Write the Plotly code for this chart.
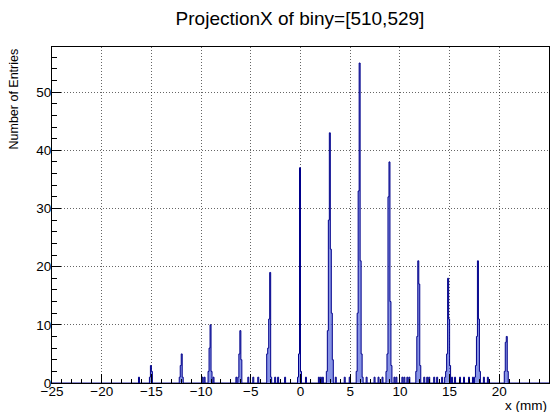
import numpy as np
import plotly.graph_objects as go

# ---- data (bin centers in mm, bin width 0.1 mm) ----
title_text = "ProjectionX of biny=[510,529]"
x_title = "x (mm)"
y_title = "Number of Entries"

peak_bins = [
    -15.15, -15.05, -14.95,
    -12.15, -12.05, -11.95, -11.85,
    -9.25, -9.15, -9.05, -8.95,
    -6.25, -6.15, -6.05, -5.95,
    -3.35, -3.25, -3.15, -3.05, -2.95,
    -0.25, -0.15, -0.05, 0.05,
    2.65, 2.75, 2.85, 2.95, 3.05, 3.15, 3.25,
    5.65, 5.75, 5.85, 5.95, 6.05, 6.15, 6.25,
    8.65, 8.75, 8.85, 8.95, 9.05, 9.15,
    11.65, 11.75, 11.85, 11.95, 12.05,
    14.55, 14.65, 14.75, 14.85, 14.95, 15.05,
    17.55, 17.65, 17.75, 17.85, 17.95, 18.05,
    20.55, 20.65, 20.75, 20.85,
]
peak_counts = [
    1, 3, 2,
    1, 3, 5, 1,
    2, 6, 10, 2,
    1, 5, 9, 4,
    5, 6, 11, 19, 1,
    1, 5, 37, 2,
    2, 9, 28, 43, 23, 12, 4,
    2, 12, 33, 55, 21, 5, 1,
    2, 5, 32, 38, 14, 3,
    2, 8, 21, 17, 3,
    1, 2, 5, 18, 11, 3,
    1, 3, 8, 21, 11, 2,
    2, 7, 8, 2,
]
single_bins = [
    -16.25, -9.85, -9.65, -8.75, -6.45, -5.25, -4.75, -4.25, -2.55, -2.25,
    -1.55, 0.55, 1.85, 2.05, 2.25, 3.55, 4.45, 4.95, 6.65, 7.45, 7.85, 8.25,
    9.45, 9.65, 10.25, 10.45, 10.75, 10.95, 12.45, 12.75, 12.95, 13.45,
    13.75, 14.25, 15.25, 15.55, 16.05, 16.45, 16.95, 17.35, 18.45, 18.85,
]
single_counts = [1] * len(single_bins)

x_ticks = list(range(-25, 26, 5))
y_ticks = list(range(0, 51, 10))

# ---- build histogram ----
edges = np.round(np.arange(-25, 25.0001, 0.1), 2)
counts = np.zeros(len(edges) - 1)
for c, n in list(zip(peak_bins, peak_counts)) + list(zip(single_bins, single_counts)):
    i = int(np.floor((c + 25) / 0.1 + 1e-6))
    counts[i] += n
ys = np.append(counts, counts[-1])

fig = go.Figure()
fig.add_trace(go.Scatter(
    x=edges, y=ys, mode="lines", line_shape="hv",
    line=dict(color="#00008b", width=1),
    fill="tozeroy", fillcolor="rgba(70,90,215,0.65)",
    hoverinfo="skip", showlegend=False,
))

font = "Liberation Sans, Arial, sans-serif"
grid = dict(showgrid=True, gridcolor="rgba(0,0,0,0.6)", griddash="1px,2px", gridwidth=1)
fig.update_layout(
    width=551, height=412,
    margin=dict(l=52, r=2, t=47, b=29),
    paper_bgcolor="white", plot_bgcolor="white",
    font=dict(family=font, color="black", size=13),
    title=dict(text=title_text, x=300 / 551, xanchor="center", y=1 - 18 / 412,
               yanchor="middle", font=dict(size=19, family=font)),
    xaxis=dict(range=[-25, 25], tickvals=x_ticks, ticks="inside", ticklen=9,
               tickcolor="black", showline=True, linecolor="black", linewidth=1,
               mirror=True, zeroline=False, tickfont=dict(size=13.5),
               ticklabelstandoff=-4,
               minor=dict(ticks="inside", dtick=1, ticklen=4.5, tickcolor="black",
                          showgrid=False),
               **grid),
    yaxis=dict(range=[0, 57.75], tickvals=y_ticks, ticks="inside", ticklen=9,
               tickcolor="black", showline=True, linecolor="black", linewidth=1,
               mirror=True, zeroline=False, tickfont=dict(size=13.5),
               ticklabelstandoff=-3,
               minor=dict(ticks="inside", dtick=2, ticklen=4.5, tickcolor="black",
                          showgrid=False),
               **grid),
    annotations=[
        dict(text=y_title, xref="paper", yref="paper", x=(13 - 52) / 497, y=1,
             xanchor="center", yanchor="top", textangle=-90, showarrow=False,
             font=dict(size=12.5, family=font)),
        dict(text=x_title, xref="paper", yref="paper", x=1, y=(383 - 405) / 336,
             xanchor="right", yanchor="middle", showarrow=False,
             font=dict(size=13.5, family=font)),
    ],
)
fig.write_html("out.html")
